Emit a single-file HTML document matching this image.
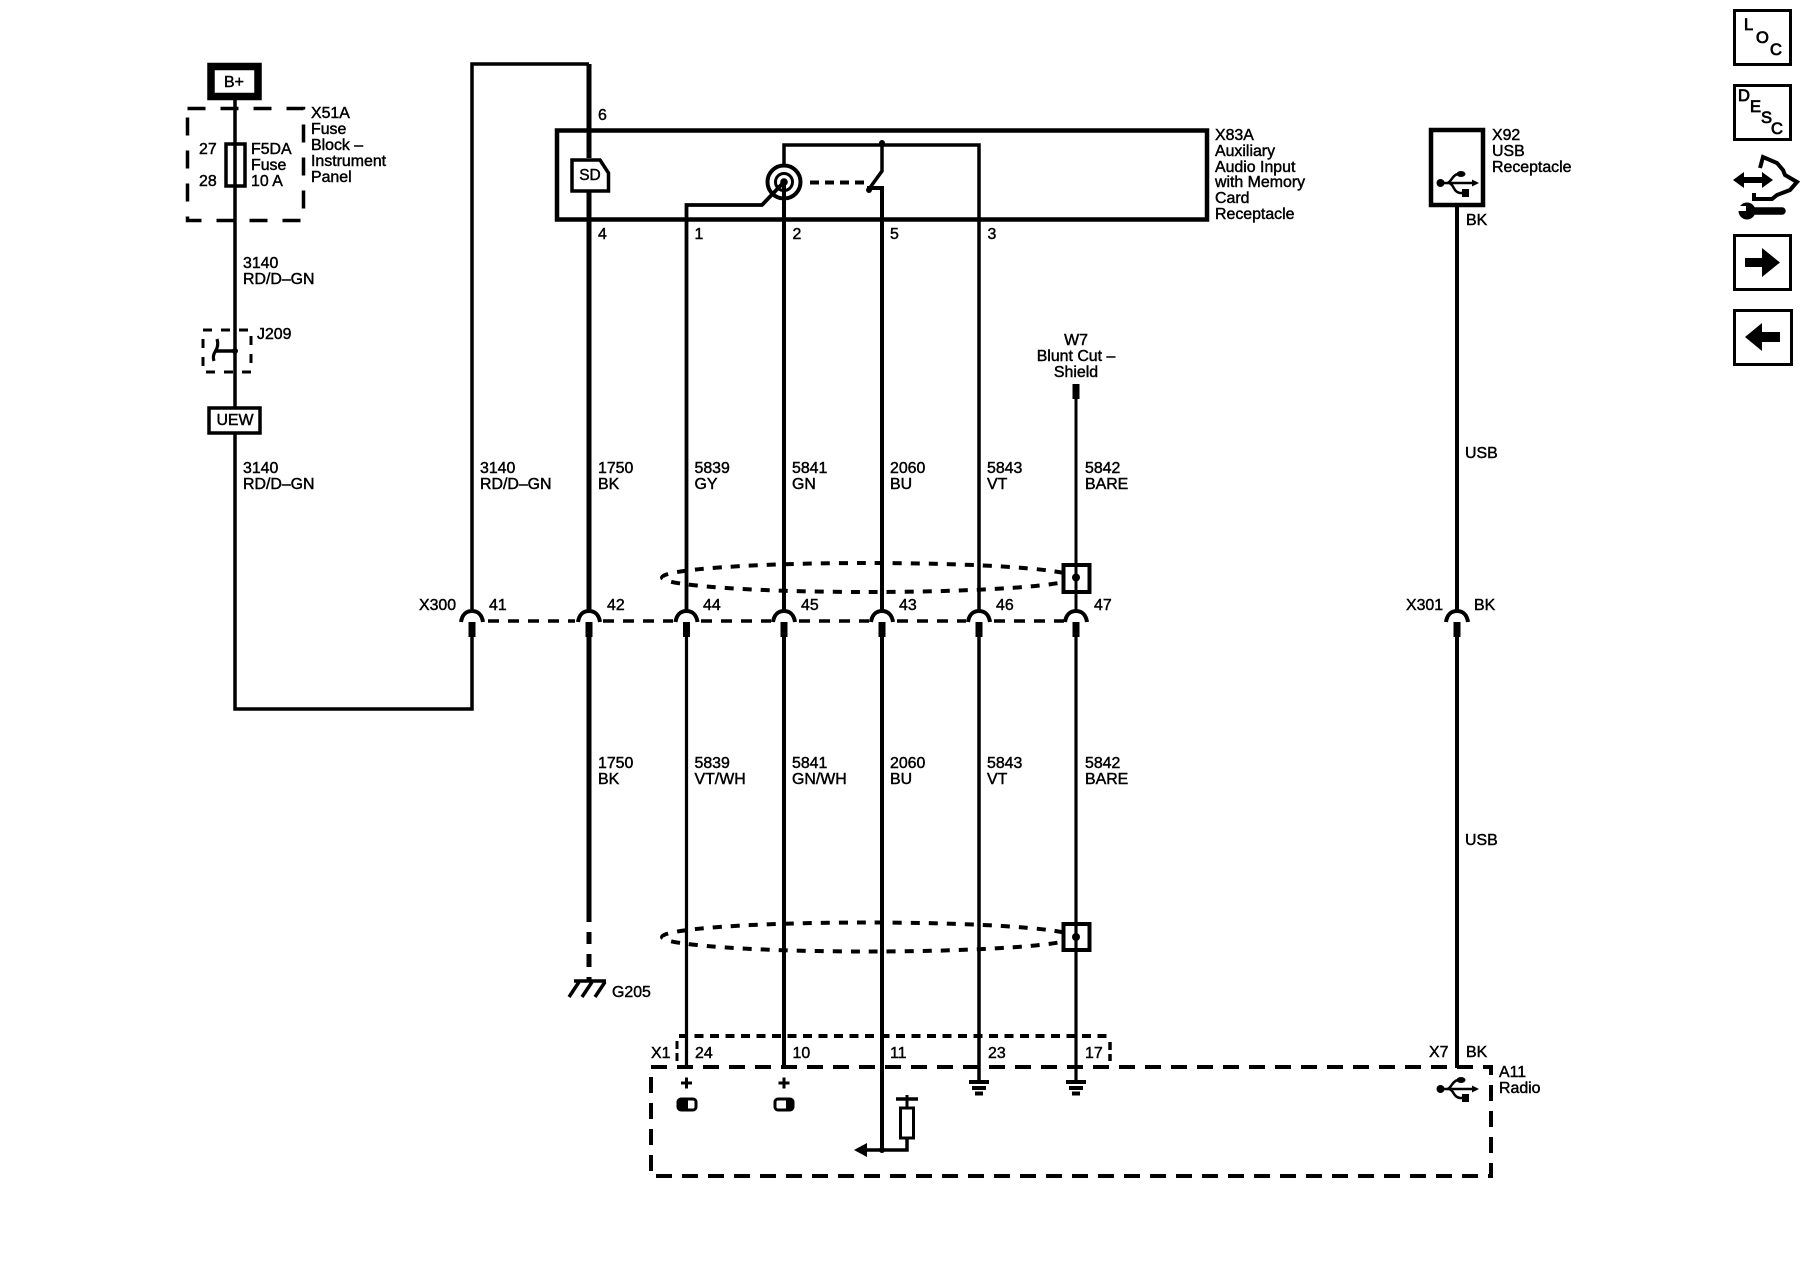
<!DOCTYPE html>
<html>
<head>
<meta charset="utf-8">
<title>Wiring diagram</title>
<style>
html,body{margin:0;padding:0;background:#fff;width:1800px;height:1280px;overflow:hidden}
svg{display:block}
text{font-family:"Liberation Sans",sans-serif;font-size:15.9px;fill:#000;stroke:#000;stroke-width:.45px}
.l{fill:none;stroke:#000;stroke-width:3.5}
.w{fill:#fff;stroke:#000;stroke-width:3.5}
.f{fill:#000;stroke:none}
.b{font-size:16.500px;stroke-width:.8px}
</style>
</head>
<body>
<svg xmlns="http://www.w3.org/2000/svg" width="1800" height="1280" viewBox="0 0 1800 1280">
<rect width="1800" height="1280" fill="#fff"/>

<!-- B+ -->
<rect x="211" y="66.5" width="47" height="30" fill="#fff" stroke="#000" stroke-width="7.5"/>
<text x="224" y="87">B+</text>
<path class="l" d="M235 96V709H472V637"/>
<path class="l" d="M472 611V64H589"/>

<!-- Fuse block -->
<rect x="187.5" y="108.5" width="116" height="112" fill="none" stroke="#000" stroke-width="3.5" stroke-dasharray="18 15"/>
<rect x="226" y="144" width="19" height="42" fill="none" stroke="#000" stroke-width="3.5"/>
<text x="199" y="154">27</text>
<text x="199" y="186">28</text>
<text x="251" y="154">F5DA</text>
<text x="251" y="170">Fuse</text>
<text x="251" y="186">10 A</text>
<text x="311" y="118">X51A</text>
<text x="311" y="134">Fuse</text>
<text x="311" y="150">Block –</text>
<text x="311" y="166">Instrument</text>
<text x="311" y="182">Panel</text>
<text x="243" y="268">3140</text>
<text x="243" y="284">RD/D–GN</text>

<!-- J209 -->
<rect x="203" y="330" width="48" height="42" fill="none" stroke="#000" stroke-width="3" stroke-dasharray="9 9"/>
<path class="l" d="M235 351H215"/>
<path d="M217 339C219 345 217 349 215 352C213 355 213 358 214 361" fill="none" stroke="#000" stroke-width="3.2"/>
<circle cx="235" cy="351" r="3" class="f"/>
<text x="257" y="339">J209</text>

<!-- UEW -->
<rect x="209" y="408" width="51" height="25" class="w"/>
<text x="235" y="425" text-anchor="middle">UEW</text>
<text x="243" y="473">3140</text>
<text x="243" y="489">RD/D–GN</text>
<text x="480" y="473">3140</text>
<text x="480" y="489">RD/D–GN</text>

<!-- X83A -->
<rect x="557" y="130.5" width="650" height="89" fill="none" stroke="#000" stroke-width="4.5"/>
<path d="M589 64V158M589 192V611M589 637V922M589 932V944M589 954V967M589 977V981" fill="none" stroke="#000" stroke-width="5"/>
<path d="M572 160H600L608.500 173V191H572Z" class="w"/>
<text x="590" y="180" text-anchor="middle" style="font-size:15.500px">SD</text>
<text x="598" y="120">6</text>
<text x="598" y="239">4</text>
<text x="694.500" y="239">1</text>
<text x="792.500" y="239">2</text>
<text x="890" y="239">5</text>
<text x="987.500" y="239">3</text>
<text x="1215" y="140">X83A</text>
<text x="1215" y="156">Auxiliary</text>
<text x="1215" y="172">Audio Input</text>
<text x="1215" y="187">with Memory</text>
<text x="1215" y="203">Card</text>
<text x="1215" y="219">Receptacle</text>

<!-- internals -->
<path class="l" d="M784 165V145H979V611"/>
<circle cx="784" cy="182" r="16.500" fill="none" stroke="#000" stroke-width="4"/>
<path d="M771 201L768 196L762 205" stroke="#fff" stroke-width="5" fill="none"/>
<circle cx="784" cy="182" r="8.500" fill="none" stroke="#000" stroke-width="3"/>
<circle cx="784" cy="182" r="3.800" class="f"/>
<path d="M686.500 611V205H762L784 182" fill="none" stroke="#000" stroke-width="3.8"/>
<path d="M784 182V611" fill="none" stroke="#000" stroke-width="4"/>
<path d="M810 182.500H866" fill="none" stroke="#000" stroke-width="4" stroke-dasharray="9 6"/>
<path d="M882 143V171L869 189" fill="none" stroke="#000" stroke-width="3.5"/>
<circle cx="882" cy="143" r="3" class="f"/>
<circle cx="869" cy="190" r="3" class="f"/>
<path d="M867 188H882V611" fill="none" stroke="#000" stroke-width="4"/>

<!-- W7 -->
<text x="1076" y="345" text-anchor="middle">W7</text>
<text x="1076" y="361" text-anchor="middle">Blunt Cut –</text>
<text x="1076" y="377" text-anchor="middle">Shield</text>
<path d="M1076 384V399" stroke="#000" stroke-width="7" fill="none"/>
<path d="M1076 399V611" class="l" style="stroke-width:3"/>

<!-- Wire labels upper -->
<text x="598" y="473">1750</text><text x="598" y="489">BK</text>
<text x="694.500" y="473">5839</text><text x="694.500" y="489">GY</text>
<text x="792" y="473">5841</text><text x="792" y="489">GN</text>
<text x="890" y="473">2060</text><text x="890" y="489">BU</text>
<text x="987" y="473">5843</text><text x="987" y="489">VT</text>
<text x="1085" y="473">5842</text><text x="1085" y="489">BARE</text>

<!-- Wire labels lower -->
<text x="598" y="768">1750</text><text x="598" y="784">BK</text>
<text x="694.500" y="768">5839</text><text x="694.500" y="784">VT/WH</text>
<text x="792" y="768">5841</text><text x="792" y="784">GN/WH</text>
<text x="890" y="768">2060</text><text x="890" y="784">BU</text>
<text x="987" y="768">5843</text><text x="987" y="784">VT</text>
<text x="1085" y="768">5842</text><text x="1085" y="784">BARE</text>

<!-- Shields -->
<ellipse cx="868" cy="577.500" rx="206" ry="14.500" fill="none" stroke="#000" stroke-width="4" stroke-dasharray="9 9"/>
<rect x="1063.500" y="565" width="26" height="27" class="w" style="stroke-width:4"/>
<ellipse cx="868" cy="937" rx="206" ry="14.500" fill="none" stroke="#000" stroke-width="4" stroke-dasharray="9 9"/>
<rect x="1063.500" y="924" width="26" height="26" class="w" style="stroke-width:4"/>

<!-- X300 dashes -->
<path d="M488 621H575M603 621H673M701 621H771M799 621H869M897 621H966M994 621H1064" fill="none" stroke="#000" stroke-width="3.5" stroke-dasharray="11 9"/>
<!-- connector arcs -->
<g fill="none" stroke="#000" stroke-width="4">
<path d="M461 622C462 615 466 611 472 611C478 611 482 615 483 622"/>
<path d="M578 622C579 615 583 611 589 611C595 611 599 615 600 622"/>
<path d="M675.500 622C676.500 615 680.500 611 686.500 611C692.500 611 696.500 615 697.500 622"/>
<path d="M773 622C774 615 778 611 784 611C790 611 794 615 795 622"/>
<path d="M871 622C872 615 876 611 882 611C888 611 892 615 893 622"/>
<path d="M968 622C969 615 973 611 979 611C985 611 989 615 990 622"/>
<path d="M1065 622C1066 615 1070 611 1076 611C1082 611 1086 615 1087 622"/>
<path d="M1446 622C1447 615 1451 611 1457 611C1463 611 1467 615 1468 622"/>
</g>
<!-- stubs -->
<g fill="none" stroke="#000" stroke-width="7">
<path d="M472 622V637M589 622V637M686.500 622V637M784 622V637M882 622V637M979 622V637M1076 622V637M1457 622V637"/>
</g>
<!-- lower wires -->
<path d="M686.500 637V1068" class="l" style="stroke-width:3.200"/>
<path d="M784 637V1068M882 637V1150" fill="none" stroke="#000" stroke-width="4"/>
<path d="M979 637V1081" class="l"/>
<path d="M1076 637V1081" class="l" style="stroke-width:3.200"/>
<path d="M1076 560V611" class="l" style="stroke-width:3"/>
<circle cx="1076" cy="577.500" r="4" class="f"/>
<circle cx="1076" cy="937" r="4" class="f"/>

<!-- labels X300 -->
<text x="419" y="610">X300</text>
<text x="489" y="610">41</text>
<text x="607" y="610">42</text>
<text x="703" y="610">44</text>
<text x="801" y="610">45</text>
<text x="899" y="610">43</text>
<text x="996" y="610">46</text>
<text x="1094" y="610">47</text>

<!-- G205 -->
<path class="l" d="M574 981H606"/>
<path d="M579 982L569 997M592 982L582 997M605 982L595 997" fill="none" stroke="#000" stroke-width="3.5"/>
<text x="612" y="997">G205</text>

<!-- X1 dashed box -->
<path d="M679 1036H1109" fill="none" stroke="#000" stroke-width="4" stroke-dasharray="9 6.500"/>
<path d="M677 1041V1061" fill="none" stroke="#000" stroke-width="3" stroke-dasharray="8 4"/>
<path d="M1110 1042V1061" fill="none" stroke="#000" stroke-width="3.500" stroke-dasharray="8 4"/>
<text x="651" y="1058">X1</text>
<text x="695" y="1058">24</text>
<text x="792.500" y="1058">10</text>
<text x="890" y="1058">11</text>
<text x="988" y="1058">23</text>
<text x="1085" y="1058">17</text>

<!-- A11 -->
<rect x="651" y="1067" width="840" height="109" fill="none" stroke="#000" stroke-width="4" stroke-dasharray="16 10"/>
<text x="1429" y="1057">X7</text>
<text x="1466" y="1057">BK</text>
<text x="1499" y="1077">A11</text>
<text x="1499" y="1093">Radio</text>

<!-- plus + pills -->
<path d="M681 1083H692M686.500 1077.500V1088.500M778.500 1083H789.500M784 1077.500V1088.500" fill="none" stroke="#000" stroke-width="3"/>
<rect x="678" y="1099" width="18" height="11" rx="3" class="w" style="stroke-width:3"/>
<rect x="678" y="1099" width="10" height="11" rx="2" class="f"/>
<rect x="775" y="1099" width="18" height="11" rx="3" class="w" style="stroke-width:3"/>
<rect x="786" y="1099" width="7" height="11" rx="2" class="f"/>

<!-- ground symbols -->
<path d="M969 1082H989M972 1088H986M975 1093.500H983M1066 1082H1086M1069 1088H1083M1072 1093.500H1080" fill="none" stroke="#000" stroke-width="4"/>

<!-- resistor branch -->
<path d="M896 1099H918" class="l"/>
<path d="M907 1095V1108" class="l" style="stroke-width:3"/>
<rect x="900.500" y="1108" width="13" height="30" fill="#fff" stroke="#000" stroke-width="3"/>
<path d="M907 1138V1150H864" class="l"/>
<path d="M854 1150L867 1143V1157Z" class="f"/>
<circle cx="882" cy="1150" r="3" class="f"/>

<!-- X92 -->
<rect x="1431" y="130" width="52" height="75" class="w" style="stroke-width:4.500"/>
<text x="1492" y="140">X92</text>
<text x="1492" y="156">USB</text>
<text x="1492" y="172">Receptacle</text>
<text x="1466" y="225">BK</text>
<path d="M1457 207V611M1457 637V1068" fill="none" stroke="#000" stroke-width="4"/>
<text x="1465" y="458">USB</text>
<text x="1465" y="845">USB</text>
<text x="1406" y="610">X301</text>
<text x="1474" y="610">BK</text>

<!-- USB icon 1 -->
<g fill="none" stroke="#000" stroke-width="2.500">
<path d="M1440 183H1474"/>
<path d="M1447 183C1451 183 1452 175 1458 174H1462"/>
<path d="M1449 183C1454 184 1453 192 1460 193H1463"/>
</g>
<circle cx="1440.500" cy="183" r="4" class="f"/>
<ellipse cx="1461" cy="174" rx="4.500" ry="3" class="f"/>
<rect x="1462" y="189" width="7" height="8" class="f"/>
<path d="M1479 183L1472 179.500V186.500Z" class="f"/>

<!-- USB icon 2 -->
<g fill="none" stroke="#000" stroke-width="2.500">
<path d="M1440 1089H1474"/>
<path d="M1447 1089C1451 1089 1452 1081 1458 1080H1462"/>
<path d="M1449 1089C1454 1090 1453 1097 1460 1098H1463"/>
</g>
<circle cx="1440.500" cy="1089" r="4" class="f"/>
<ellipse cx="1461" cy="1080" rx="4.500" ry="3" class="f"/>
<rect x="1462" y="1094" width="7" height="8" class="f"/>
<path d="M1479 1089L1472 1085.500V1092.500Z" class="f"/>

<!-- Right icons -->
<rect x="1734.500" y="10.500" width="56" height="54" fill="none" stroke="#000" stroke-width="3"/>
<text class="b" x="1744" y="30">L</text>
<text class="b" x="1756" y="43">O</text>
<text class="b" x="1770" y="55">C</text>

<rect x="1734.500" y="85.500" width="56" height="54" fill="none" stroke="#000" stroke-width="3"/>
<text class="b" x="1738" y="101">D</text>
<text class="b" x="1750" y="112">E</text>
<text class="b" x="1761" y="123">S</text>
<text class="b" x="1771" y="134">C</text>

<path class="f" d="M1733 180L1744 172V177H1762V172L1773 180L1762 188V183H1744V188Z"/>
<path d="M1760 168L1763 157L1777 163L1783 170L1785 175L1797 182L1790 190L1777 195L1772 199H1754V193" fill="none" stroke="#000" stroke-width="4"/>
<path d="M1750 211H1782" fill="none" stroke="#000" stroke-width="7.500" stroke-linecap="round"/>
<circle cx="1747" cy="211" r="8.500" class="f"/>
<path d="M1738 206H1746V211H1738Z" fill="#fff"/>

<rect x="1734.500" y="235.500" width="56" height="54" fill="none" stroke="#000" stroke-width="3"/>
<path class="f" d="M1745 258H1762V248L1780 262.500L1762 277V267H1745Z"/>

<rect x="1734.500" y="310.500" width="57" height="54" fill="none" stroke="#000" stroke-width="3"/>
<path class="f" d="M1780 332H1762V323L1745 337L1762 351V342H1780Z"/>
</svg>
</body>
</html>
